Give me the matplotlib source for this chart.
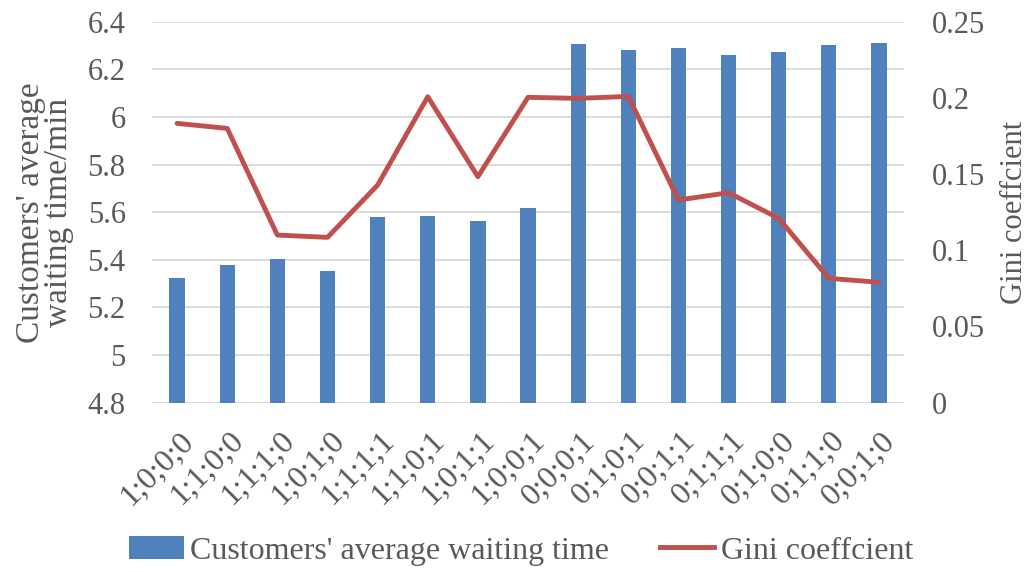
import matplotlib.pyplot as plt
import matplotlib.transforms as mtransforms
import numpy as np
from matplotlib.patches import Patch
from matplotlib.lines import Line2D

plt.rcParams["font.family"] = ["Liberation Serif", "DejaVu Serif"]

categories = ["1;0;0;0", "1;1;0;0", "1;1;1;0", "1;0;1;0", "1;1;1;1", "1;1;0;1",
              "1;0;1;1", "1;0;0;1", "0;0;0;1", "0;1;0;1", "0;0;1;1", "0;1;1;1",
              "0;1;0;0", "0;1;1;0", "0;0;1;0"]
waiting_time = [5.325, 5.377, 5.403, 5.353, 5.581, 5.584, 5.563, 5.618,
                6.305, 6.282, 6.290, 6.259, 6.274, 6.301, 6.311]
gini = [0.1833, 0.180, 0.110, 0.1085, 0.1428, 0.2008, 0.1483, 0.2004,
        0.1997, 0.201, 0.133, 0.1378, 0.121, 0.0816, 0.079]

BAR_COLOR = "#4F81BD"
LINE_COLOR = "#C0504D"
TEXT_COLOR = "#595959"
GRID_COLOR = "#D9D9D9"
FS = 22

fig = plt.figure(figsize=(10.3, 5.72), dpi=100)
ax = fig.add_axes([0.1476, 0.296, 0.7301, 0.666])
ax2 = ax.twinx()

x = np.arange(len(categories))
ax.bar(x, waiting_time, width=0.305, color=BAR_COLOR, zorder=2)
ax.set_ylim(4.8, 6.4)
ax.set_yticks(np.arange(4.8, 6.41, 0.2))
ax.set_yticklabels(["4.8", "5", "5.2", "5.4", "5.6", "5.8", "6", "6.2", "6.4"])
ax.set_xlim(-0.5, len(categories) - 0.5)
ax.yaxis.grid(True, color=GRID_COLOR, lw=1.3, zorder=0)
ax.set_axisbelow(True)

ax2.plot(x, gini, color=LINE_COLOR, lw=3.5, solid_capstyle="round", zorder=3)
ax2.set_ylim(0, 0.25)
ax2.set_yticks([0, 0.05, 0.1, 0.15, 0.2, 0.25])
ax2.set_yticklabels(["0", "0.05", "0.1", "0.15", "0.2", "0.25"])

for a in (ax, ax2):
    for s in a.spines.values():
        s.set_visible(False)
    a.tick_params(length=0, colors=TEXT_COLOR, labelsize=FS)

ax.tick_params(axis="y", pad=19)
ax2.tick_params(axis="y", pad=20)
ax.set_xticks(x)
ax.set_xticklabels(categories, rotation=45, ha="right", rotation_mode="anchor",
                   fontsize=23, color=TEXT_COLOR)
ax.tick_params(axis="x", pad=17)
shift = mtransforms.ScaledTranslation(2 / 100, 0, fig.dpi_scale_trans)
for lbl in ax.get_xticklabels():
    lbl.set_transform(lbl.get_transform() + shift)

ax.set_ylabel("Customers' average\nwaiting time/min", fontsize=24, color=TEXT_COLOR,
              linespacing=0.9)
ax.yaxis.set_label_coords(-0.104, 0.5)
ax2.set_ylabel("Gini coeffcient", fontsize=22, color=TEXT_COLOR)
ax2.yaxis.set_label_coords(1.127, 0.5)

handles = [Patch(facecolor=BAR_COLOR, edgecolor="none"),
           Line2D([0], [0], color=LINE_COLOR, lw=3.5)]
fig.legend(handles, ["Customers' average waiting time", "Gini coeffcient"],
           loc="center", bbox_to_anchor=(0.506, 0.037), ncol=2, frameon=False,
           fontsize=23, handlelength=1.7, handletextpad=0.2, columnspacing=1.6,
           labelcolor=TEXT_COLOR)

fig.savefig("out.png", dpi=100)
